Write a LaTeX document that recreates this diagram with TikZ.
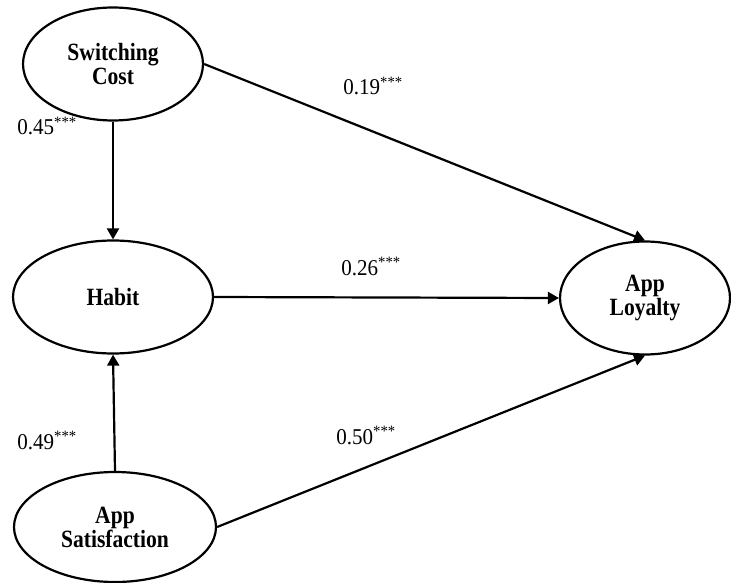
\documentclass[tikz,border=0pt]{standalone}
\usepackage{fontspec}
\setmainfont{Liberation Serif}
\newfontfamily\latentfont[FakeStretch=0.87]{Liberation Serif}
\newfontfamily\coeffont[FakeStretch=0.93]{Liberation Serif}
\usetikzlibrary{shapes.geometric,arrows.meta}
\begin{document}
\begin{tikzpicture}
[latentdecorate/.style={draw,ellipse,line width=1.1pt,inner sep=0pt,align=center,
  font=\latentfont\fontsize{12.4}{12}\selectfont\bfseries},
 pathdecorate/.style={line width=1.1pt,-{Triangle[length=5.5pt,width=6pt]}},
 coefdecorate/.style={anchor=base west,inner sep=0pt,font=\coeffont\fontsize{11.3}{12}\selectfont},
 x=0.5pt,y=-0.5pt]
\useasboundingbox (0,0) rectangle (731,582);
%% the latent constructs
\node[latentdecorate,minimum width=90pt,minimum height=56.5pt] (cost) at (113,64) {Switching\\Cost};
\node[latentdecorate,minimum width=100pt,minimum height=56.5pt] (habit) at (113,297) {Habit};
\node[latentdecorate,minimum width=101pt,minimum height=55pt] (satis) at (115,527) {App\\Satisfaction};
\node[latentdecorate,minimum width=85pt,minimum height=56.5pt] (loyal) at (645,298) {App\\Loyalty};
%% the structural paths
\foreach \from/\to in {cost.south/habit.north, satis.north/habit.south, cost.east/loyal.north, habit.east/loyal.west, satis.east/loyal.south}
{
  \draw[pathdecorate] (\from) -- (\to);
}
%% the path coefficients
\node[coefdecorate] (coefcost) at (17,135) {0.45\textsuperscript{***}};
\node[coefdecorate] (coefcostloyal) at (343,95) {0.19\textsuperscript{***}};
\node[coefdecorate] (coefhabit) at (341,275) {0.26\textsuperscript{***}};
\node[coefdecorate] (coefsatis) at (17,449) {0.49\textsuperscript{***}};
\node[coefdecorate] (coefsatisloyal) at (336,444) {0.50\textsuperscript{***}};
\end{tikzpicture}
\end{document}
